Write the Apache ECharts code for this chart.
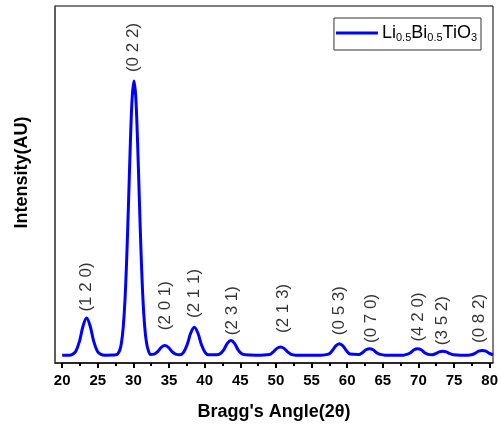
<!DOCTYPE html>
<html>
<head>
<meta charset="utf-8">
<script src="https://cdn.jsdelivr.net/npm/echarts@6/dist/echarts.min.js"></script>
<style>html,body{margin:0;padding:0;background:#fff}#c{width:501px;height:430px}</style>
</head>
<body>
<div id="c"></div>
<script>
var angle = [20.0,21.0,21.4,21.9,22.4,22.9,23.4,23.9,24.4,24.9,25.4,26.0,
  27.5,28.0,28.25,28.5,28.75,29.0,29.25,29.5,29.75,30.0,30.25,30.5,30.75,31.0,31.25,31.5,31.75,32.0,32.3,
  32.8,33.3,33.8,34.3,34.8,35.3,35.8,
  36.4,36.9,37.4,37.9,38.4,38.9,39.4,39.9,40.4,
  41.5,42.0,42.5,43.0,43.5,44.0,44.5,45.0,45.5,
  47.0,48.9,49.4,49.9,50.4,50.9,51.4,51.9,52.5,
  56.0,57.1,57.6,58.1,58.6,59.1,59.6,60.1,
  61.3,61.8,62.3,62.8,63.3,63.8,64.3,65.0,
  67.5,68.0,68.5,69.0,69.5,70.0,70.5,71.0,
  71.5,72.0,72.5,73.0,73.5,74.0,74.5,75.5,
  76.5,77.0,77.5,78.0,78.5,79.0,79.5,80.0];
var intensity = [2.2,2.2,2.4,3.3,6.0,10.3,12.6,10.3,6.0,3.3,2.4,2.2,
  2.3,3.5,5.6,10.0,17.8,30.0,45.6,61.9,74.4,79.0,74.4,61.9,45.6,30.0,17.8,10.0,5.6,3.5,2.4,
  2.5,3.2,4.4,4.9,4.4,3.2,2.5,
  2.3,3.0,5.1,8.4,10.0,8.4,5.1,3.0,2.3,
  2.3,2.6,3.7,5.5,6.3,5.5,3.7,2.6,2.3,
  2.2,2.4,3.1,4.1,4.5,4.1,3.1,2.4,2.2,
  2.2,2.5,3.4,4.8,5.4,4.8,3.4,2.5,
  2.4,2.9,3.7,4.0,3.7,2.9,2.4,2.2,
  2.2,2.4,2.9,3.7,4.0,3.7,2.9,2.4,
  2.3,2.6,3.1,3.3,3.1,2.6,2.3,2.2,
  2.2,2.3,2.7,3.3,3.5,3.3,2.7,2.3];
// peak annotations: (hkl) text, angle, label anchor (intensity units)
var peakLabels = ['(1 2 0)','(0 2 2)','(2 0 1)','(2 1 1)','(2 3 1)','(2 1 3)','(0 5 3)','(0 7 0)','(4 2 0)','(3 5 2)','(0 8 2)'];
var peakAngle = [23.3,29.9,34.4,38.4,43.7,50.8,58.6,63.0,69.6,73.0,78.1];
var labelAt = [14.4,81.5,9.2,12.6,7.8,8.4,7.8,5.6,6.0,5.0,5.6];
// tick axis range / step
var tickMin = 20, tickMax = 80, tickStep = 5;
var axisMin = 19;
var seriesName = 'Li0.5Bi0.5TiO3';

var lineData = angle.map(function(a,i){return [a,intensity[i]];});
var labelData = peakAngle.map(function(a,i){return {value:[a,labelAt[i]], name:peakLabels[i]};});

var L = 55, R = 8, T = 6, B = 67, W = 501;
var plotW = W - L - R;
var tickLeft = L + plotW * (tickMin - axisMin) / (tickMax - axisMin);

var chart = echarts.init(document.getElementById('c'), null, {renderer:'canvas'});
var F = '"Liberation Sans", Arial, sans-serif';
chart.setOption({
  animation:false,
  backgroundColor:'#fff',
  grid:[
    {left:L,right:R,top:T,bottom:B,show:true,borderColor:'#000',borderWidth:1,backgroundColor:'transparent'},
    {left:tickLeft,right:R,top:T,bottom:B,show:false}
  ],
  legend:{
    data:[{name:seriesName,icon:'rect'}], right:20, top:18, padding:[6,4,7,2], itemGap:0,
    borderColor:'#333', borderWidth:1, borderRadius:0,
    itemWidth:42, itemHeight:3,
    formatter:function(){return 'Li{s|0.5}Bi{s|0.5}TiO{s|3}';},
    textStyle:{fontFamily:F,fontSize:18,color:'#000',padding:[0,0,0,-1],
      rich:{s:{fontFamily:F,fontSize:11,color:'#000',padding:[9,0,0,0]}}}
  },
  xAxis:[{
    gridIndex:0, type:'value', min:axisMin, max:tickMax,
    name:"Bragg's Angle(2θ)", nameLocation:'middle', nameGap:40,
    nameTextStyle:{fontFamily:F,fontSize:18,fontWeight:'bold',color:'#000'},
    axisLine:{show:true,onZero:false,lineStyle:{color:'#222',width:1.5}},
    axisTick:{show:false}, axisLabel:{show:false}, splitLine:{show:false}
  },{
    gridIndex:1, type:'value', min:tickMin, max:tickMax, interval:tickStep,
    axisLine:{show:true,onZero:false,lineStyle:{color:'#222',width:1.5}},
    axisTick:{show:true,length:5,lineStyle:{color:'#000',width:2}},
    minorTick:{show:true,splitNumber:2,length:3,lineStyle:{color:'#000',width:2}},
    axisLabel:{show:true,margin:10,fontFamily:F,fontSize:15,fontWeight:'bold',color:'#000'},
    splitLine:{show:false}
  }],
  yAxis:[{
    gridIndex:0, type:'value', min:0, max:100,
    name:'Intensity(AU)', nameLocation:'middle', nameGap:24,
    nameTextStyle:{fontFamily:F,fontSize:18,fontWeight:'bold',color:'#000',padding:[0,0,0,24]},
    axisLine:{show:true,lineStyle:{color:'#555',width:1.5}},
    axisTick:{show:false}, axisLabel:{show:false}, splitLine:{show:false}
  },{
    gridIndex:1, type:'value', min:0, max:100,
    axisLine:{show:false}, axisTick:{show:false}, axisLabel:{show:false}, splitLine:{show:false}
  }],
  series:[{
    name:seriesName, type:'line', data:lineData, xAxisIndex:0, yAxisIndex:0,
    smooth:0.35, symbol:'none',
    lineStyle:{color:'#0000ff',width:3}, itemStyle:{color:'#0000ff'}
  },{
    name:'labels', type:'scatter', data:labelData, symbolSize:0, xAxisIndex:0, yAxisIndex:0,
    silent:true,
    label:{show:true,position:'inside',rotate:90,align:'left',verticalAlign:'middle',
      formatter:function(p){return p.name;},
      fontFamily:F,fontSize:17,color:'#000'}
  }]
});
</script>
</body>
</html>
